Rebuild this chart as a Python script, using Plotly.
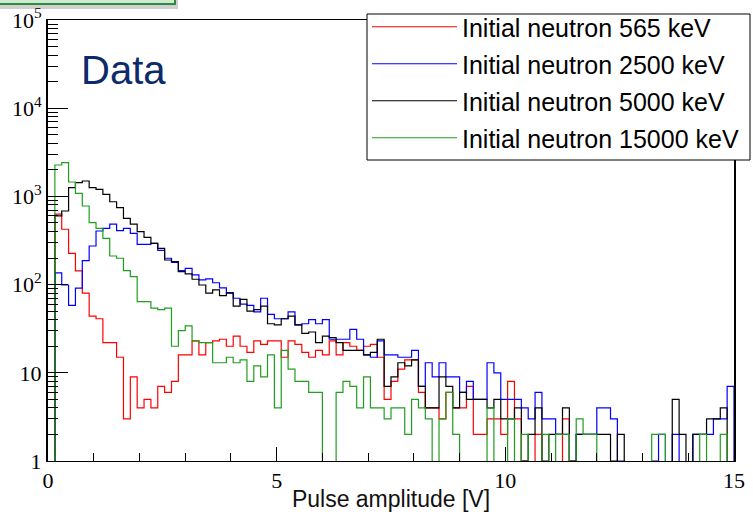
import numpy as np
import plotly.graph_objects as go

# ---------------- data (counts per 0.15 V bin, 100 bins over 0-15 V) ----------------
bin_width = 0.15
n_bins = 100

red_565 = [
    0, 630, 424, 226, 143, 80, 44, 41, 22, 22,
    15, 3, 9, 4, 5, 4, 7, 6, 8, 16,
    16, 23, 16, 22, 23, 24, 20, 26, 20, 17,
    23, 21, 23, 23, 15, 23, 21, 17, 15, 18,
    16, 23, 16, 22, 20, 18, 20, 21, 15, 5,
    8, 11, 14, 14, 6, 4, 4, 3, 6, 4,
    4, 7, 2, 2, 3, 3, 2, 8, 3, 1,
    0, 2, 0, 0, 0, 3, 1, 0, 0, 0,
    0, 0, 0, 0, 0, 0, 0, 0, 0, 0,
    0, 0, 0, 0, 0, 0, 0, 0, 0, 0,
]

blue_2500 = [
    0, 136, 99, 58, 91, 187, 274, 405, 434, 486,
    409, 434, 381, 286, 286, 294, 245, 199, 179, 144,
    153, 129, 113, 116, 105, 92, 81, 70, 60, 58,
    49, 70, 46, 41, 41, 49, 35, 36, 40, 36,
    40, 24, 24, 24, 31, 24, 16, 15, 23, 16,
    16, 15, 15, 18, 7, 13, 9, 13, 9, 9,
    6, 8, 5, 5, 13, 10, 5, 5, 5, 4,
    3, 6, 3, 3, 2, 2, 0, 2, 2, 2,
    4, 4, 3, 1, 0, 0, 0, 0, 1, 2,
    0, 2, 0, 0, 2, 2, 2, 3, 3, 7,
]

black_5000 = [
    0, 600, 683, 1255, 1432, 1495, 1255, 1203, 1055, 870,
    745, 564, 486, 398, 344, 294, 258, 190, 182, 140,
    132, 115, 99, 80, 87, 75, 80, 57, 68, 50,
    52, 57, 36, 35, 41, 44, 35, 28, 29, 22,
    26, 25, 22, 18, 18, 18, 16, 17, 24, 7,
    9, 13, 12, 14, 7, 4, 4, 9, 7, 4,
    6, 5, 5, 5, 4, 5, 3, 3, 4, 1,
    2, 4, 1, 2, 2, 4, 1, 2, 2, 2,
    2, 2, 1, 2, 0, 0, 0, 0, 0, 0,
    0, 5, 2, 0, 2, 2, 3, 3, 4, 0,
]

green_15000 = [
    0, 2270, 2410, 1456, 1083, 778, 504, 434, 335, 211,
    199, 144, 123, 64, 64, 54, 52, 54, 20, 30,
    34, 23, 22, 22, 13, 13, 15, 13, 14, 8,
    12, 9, 16, 4, 18, 11, 8, 8, 6, 6,
    0, 0, 6, 8, 7, 4, 9, 4, 4, 3,
    4, 4, 2, 5, 4, 3, 0, 3, 6, 2,
    0, 0, 0, 0, 4, 0, 0, 3, 0, 2,
    0, 0, 2, 0, 2, 2, 0, 3, 2, 2,
    0, 0, 0, 0, 0, 0, 0, 0, 2, 2,
    0, 0, 0, 0, 0, 2, 0, 0, 2, 0,
]

series_names = [
    "Initial neutron 565 keV",
    "Initial neutron 2500 keV",
    "Initial neutron 5000 keV",
    "Initial neutron 15000 keV",
]
series_values = [red_565, blue_2500, black_5000, green_15000]
series_colors = ["#ff0000", "#0000ff", "#000000", "#1f9f1f"]

x_tick_vals = [0, 5, 10, 15]
x_tick_text = ["0", "5", "10", "15"]
y_tick_vals = [1, 10, 100, 1000, 10000, 100000]
y_tick_text = ["1", "10", "10<sup>2</sup>", "10<sup>3</sup>", "10<sup>4</sup>", "10<sup>5</sup>"]

x_title = "Pulse amplitude [V]"
panel_label = "Data"

# ---------------- figure ----------------
W, H = 753, 512
ML, MR, MT, MB = 48, 19, 20, 51
PW, PH = W - ML - MR, H - MT - MB


def px_x(px):
    return (px - ML) / PW


def px_y(py):
    return (H - MB - py) / PH


edges = np.arange(n_bins + 1) * bin_width
floor_val = 0.3  # empty bins drop below the axis minimum (log scale)

fig = go.Figure()
for i, (name, vals, col) in enumerate(zip(series_names, series_values, series_colors)):
    v = np.asarray(vals, dtype=float)
    v = np.where(v > 0, v, floor_val)
    xs = np.concatenate([edges[:-1], [edges[-1]], [edges[-1]]])
    ys = np.concatenate([v, [v[-1]], [floor_val]])
    fig.add_trace(go.Scatter(
        x=xs, y=ys, mode="lines", name=name,
        line=dict(color=col, width=1.2, shape="hv"),
        legendgroup=f"g{i}", hoverinfo="skip",
    ))

x_minor = [v for v in range(1, 15) if v % 5 != 0]
y_minor = [k * 10 ** d for d in range(0, 5) for k in range(2, 10)]

fig.update_xaxes(
    range=[0, 15], showgrid=False, zeroline=False, automargin=False,
    showline=True, linecolor="black", linewidth=1, mirror=True,
    tickmode="array", tickvals=x_tick_vals, ticktext=x_tick_text,
    ticks="inside", ticklen=14, tickcolor="black", tickwidth=1,
    minor=dict(tickmode="array", tickvals=x_minor, ticks="inside", ticklen=8,
               tickcolor="black", tickwidth=1, showgrid=False),
    tickfont=dict(family="Liberation Serif", size=22, color="black"),
    title=dict(text=x_title, font=dict(family="Liberation Sans", size=23, color="#111111"),
               standoff=1),
)
fig.update_yaxes(
    type="log", range=[0, 5], showgrid=False, zeroline=False, automargin=False,
    showline=True, linecolor="black", linewidth=2, mirror=True,
    tickmode="array", tickvals=y_tick_vals, ticktext=y_tick_text,
    ticks="inside", ticklen=20, tickcolor="black", tickwidth=1,
    minor=dict(tickmode="array", tickvals=y_minor, ticks="inside", ticklen=10,
               tickcolor="black", tickwidth=1, showgrid=False),
    tickfont=dict(family="Liberation Serif", size=22, color="black"),
)

# decorative green header bar remnant at the top left (slide artefact)
fig.add_shape(type="rect", xref="paper", yref="paper",
              x0=px_x(-20), x1=px_x(178), y0=px_y(9), y1=px_y(-20),
              line=dict(width=0), fillcolor="rgba(120,120,120,0.35)", layer="above")
fig.add_shape(type="rect", xref="paper", yref="paper",
              x0=px_x(-20), x1=px_x(175), y0=px_y(4), y1=px_y(-20),
              line=dict(color="#2e8b3e", width=2), fillcolor="#cfead0", layer="above")

# legend frame (white box with black border)
fig.add_shape(type="rect", xref="paper", yref="paper",
              x0=px_x(367), x1=px_x(750), y0=px_y(160), y1=px_y(14),
              line=dict(color="black", width=1), fillcolor="white", layer="above")

fig.add_annotation(
    text=panel_label, xref="paper", yref="paper",
    x=px_x(79), y=px_y(70), xanchor="left", yanchor="middle", showarrow=False,
    font=dict(family="Liberation Sans", size=40, color="#0d2a6b"),
)

fig.update_layout(
    width=W, height=H,
    margin=dict(l=ML, r=MR, t=MT, b=MB, pad=0, autoexpand=False),
    paper_bgcolor="white", plot_bgcolor="white",
    showlegend=True,
    legend=dict(
        x=px_x(367), y=px_y(4), xanchor="left", yanchor="top",
        bgcolor="rgba(0,0,0,0)", borderwidth=0,
        font=dict(family="Liberation Sans", size=25, color="black"),
        itemwidth=85, traceorder="grouped", tracegroupgap=1.5,
    ),
)

fig.write_html("out.html")
